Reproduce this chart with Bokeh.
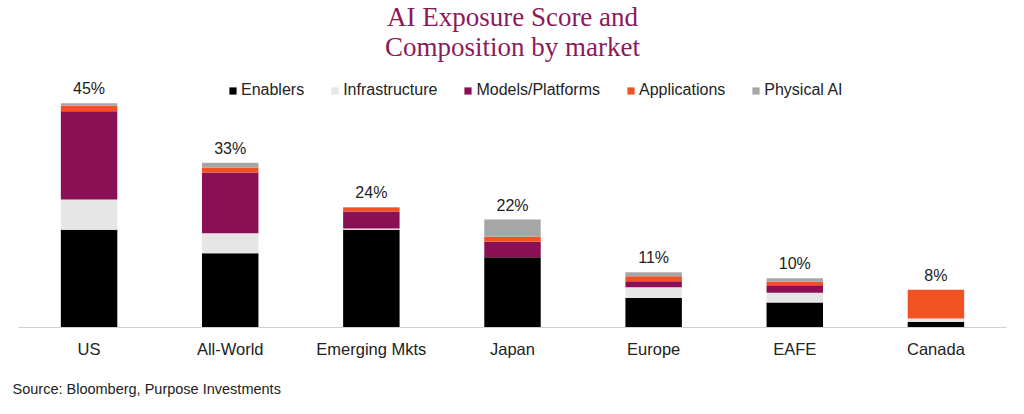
from bokeh.plotting import figure
from bokeh.models import ColumnDataSource, Title, Legend, LegendItem, LabelSet, Range1d
from bokeh.core.properties import value
from bokeh.embed import file_html
from bokeh.resources import INLINE

markets = ["US", "All-World", "Emerging Mkts", "Japan", "Europe", "EAFE", "Canada"]
enablers = [19.5, 14.8, 19.5, 14.0, 5.9, 5.0, 1.1]
infrastructure = [6.0, 4.0, 0.2, 0.0, 2.1, 1.9, 0.7]
models = [17.6, 12.1, 3.4, 3.1, 1.2, 1.5, 0.0]
applications = [1.1, 1.0, 0.7, 1.0, 1.0, 0.7, 5.7]
physical = [0.5, 0.9, 0.2, 3.4, 0.8, 0.7, 0.0]
totals = [45, 33, 24, 22, 11, 10, 8]
series = ["Enablers", "Infrastructure", "Models/Platforms", "Applications", "Physical AI"]
colors = ["#000000", "#E6E6E6", "#8A0F55", "#F05223", "#A6A6A6"]

data = dict(markets=markets, Enablers=enablers, Infrastructure=infrastructure,
            **{"Models/Platforms": models}, Applications=applications,
            **{"Physical AI": physical})
tops = [sum(v) for v in zip(enablers, infrastructure, models, applications, physical)]
data["top"] = tops
data["label"] = [f"{t}%" for t in totals]
src = ColumnDataSource(data)

p = figure(x_range=markets, width=1024, height=414, output_backend="svg",
           toolbar_location=None, min_border_left=18, min_border_right=18,
           min_border_top=64, min_border_bottom=86)
p.y_range = Range1d(0, 52.4)

rs = p.vbar_stack(series, x="markets", width=0.4, source=src, color=colors, line_width=0)

labels = LabelSet(x="markets", y="top", text="label", source=src, text_align="center",
                  text_baseline="bottom", y_offset=6, text_font=value("Liberation Sans"),
                  text_font_size="16px", text_color="#222222")
p.add_layout(labels)

legend = Legend(items=[LegendItem(label=s, renderers=[r]) for s, r in zip(series, rs)],
                orientation="horizontal", location=(210, 228),
                label_text_font="Liberation Sans", label_text_font_size="16px",
                label_text_color="#222222", glyph_width=9, glyph_height=9,
                spacing=26, label_standoff=4, background_fill_alpha=0,
                border_line_alpha=0, margin=0, padding=0)
p.add_layout(legend)

p.yaxis.visible = False
p.ygrid.visible = False
p.xgrid.visible = False
p.outline_line_color = None
p.xaxis.axis_line_color = "#D0D0D0"
p.xaxis.major_tick_line_color = None
p.xaxis.minor_tick_line_color = None
p.xaxis.major_label_text_font = "Liberation Sans"
p.xaxis.major_label_text_font_size = "16.5px"
p.xaxis.major_label_text_color = "#222222"
p.xaxis.major_label_standoff = 6
p.x_range.range_padding = 0.0

p.add_layout(Title(text="Source: Bloomberg, Purpose Investments", align="left",
                   text_font="Liberation Sans", text_font_size="14.5px",
                   text_font_style="normal", text_color="#222222", offset=-6,
                   standoff=36), "below")
p.add_layout(Title(text="Composition by market", align="center",
                   text_font="Liberation Serif", text_font_size="27px",
                   text_font_style="normal", text_color="#8B1A5B", standoff=6), "above")
p.add_layout(Title(text="AI Exposure Score and", align="center",
                   text_font="Liberation Serif", text_font_size="27px",
                   text_font_style="normal", text_color="#8B1A5B", standoff=-11), "above")

open("out.html", "w").write(file_html(p, INLINE))
